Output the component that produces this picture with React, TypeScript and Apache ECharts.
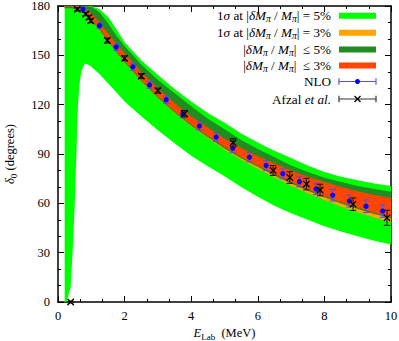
import React, { useEffect, useRef } from 'react';
import * as echarts from 'echarts';

// ---- axis ticks ----
const xMin = 0, xMax = 10, xInterval = 2;
const yMin = 0, yMax = 180, yInterval = 30;

// ---- band grid (E_Lab, MeV) ----
const bandX = [0.2, 0.4, 0.6, 0.8, 1.0, 1.25, 1.5, 1.75, 2.0, 2.5, 3.0, 3.5, 4.0, 4.5, 5.0, 5.5, 6.0, 6.5, 7.0, 7.5, 8.0, 8.5, 9.0, 9.5, 10.0];

// 1σ at |δMπ/Mπ| = 5%  (light green)
const green5Upper = [180, 180, 180, 180, 180, 178, 173.5, 166, 158, 147, 138, 129.5, 122, 115, 109, 102.5, 97, 92, 87.5, 83, 79, 76.2, 74, 72, 70.5];
const green5LowerX = [0.2, 0.25, 0.3, 0.38, 0.45, 0.5, 0.55, 0.6, 0.65, 0.7, 0.8, 0.9, 1.0, 1.25, 1.5, 1.75, 2.0, 2.5, 3.0, 3.5, 4.0, 4.5, 5.0, 5.5, 6.0, 6.5, 7.0, 7.5, 8.0, 8.5, 9.0, 9.5, 10.0];
const green5Lower = [0, 0, 3, 9, 35, 58, 88, 120, 133, 140, 145, 144.5, 143, 138.5, 133, 127.5, 122, 113, 104.5, 96.5, 89, 82.5, 76.5, 70, 64, 58.5, 54, 50, 46, 42.8, 40, 37.3, 35];

// 1σ at |δMπ/Mπ| = 3%  (orange)
const orange3Upper = [180, 180, 180, 179.1, 176.3, 170.8, 164.3, 157.9, 152, 140.6, 130.7, 121.8, 113.8, 106.9, 100.2, 94.4, 89.5, 85.1, 80.8, 77, 73.8, 70.8, 68.1, 65.8, 64];
const orange3Lower = [179.2, 179.2, 177.8, 174.8, 171, 165, 158.3, 151.7, 145.6, 134, 124, 114.9, 106.8, 99.7, 92.7, 86.5, 81, 75.8, 70.7, 66.1, 62, 58.1, 54.6, 51.4, 48.5];

// |δMπ/Mπ| ≤ 5%  (forest green)
const dg5Upper = [180, 180, 180, 180, 179.5, 176, 169.5, 162, 155.5, 144.5, 135, 127, 119, 111.5, 105, 98.5, 93, 88, 83, 79, 75.5, 73, 70.5, 68.7, 67];
const dg5Lower = [178.7, 178.7, 177.5, 175, 171.2, 165.2, 158.5, 151.9, 145.8, 134.2, 124.2, 115.2, 107.2, 100.2, 93.4, 87.4, 82.2, 77, 72.1, 67.7, 63.7, 59.9, 56.6, 53.5, 50.9];

// |δMπ/Mπ| ≤ 3%  (orange-red)
const red3Upper = [180, 180, 179.8, 178.3, 175.5, 170, 163.5, 157.1, 151.2, 139.8, 129.9, 121, 113, 106.1, 99.4, 93.6, 88.7, 84.3, 80, 76.2, 73, 70, 67.3, 65, 63.2];
const red3Lower = [179.5, 179.5, 178.3, 175.8, 172, 166, 159.3, 152.7, 146.6, 135, 125, 116, 108, 101, 94.2, 88.2, 83, 77.8, 72.9, 68.5, 64.5, 60.7, 57.4, 54.3, 51.7];

// NLO points
const nloX = [0.75, 1.25, 1.75, 2.25, 2.75, 3.25, 3.75, 4.25, 4.75, 5.25, 5.75, 6.25, 6.75, 7.25, 7.75, 8.25, 8.75, 9.25, 9.75];
const nloY = [178, 168, 155, 143, 132, 123, 114.3, 107, 100.2, 93.5, 88, 83, 78, 73.2, 68.7, 64.9, 61.4, 58.2, 55.3];
const nloErr = [1.2, 1.5, 2, 2, 2, 2.2, 2.3, 2.5, 2.6, 2.7, 2.8, 3, 3, 3.2, 3.3, 3.5, 3.6, 3.8, 3.8];

// Afzal et al. data
const afzalX = [0.38, 0.58, 0.83, 0.93, 0.98, 1.48, 2.0, 2.5, 3.0, 3.8, 5.26, 6.46, 6.96, 7.46, 7.87, 8.86, 9.88];
const afzalY = [0, 178, 175.1, 173.1, 171, 159, 148.2, 137.4, 128.5, 114.5, 96.9, 80, 75.7, 71.7, 68.1, 59.5, 51.2];
const afzalErr = [0.5, 1, 1, 1.2, 1.2, 1.5, 1.5, 1.5, 1.5, 2, 2.5, 3, 3.5, 3.5, 3.5, 3.8, 4.6];

const FONT = 'Liberation Serif';
const C_GREEN = '#00ff00';
const C_ORANGE = '#ffa500';
const C_DGREEN = '#228b22';
const C_RED = '#ff4500';
const C_NLO_BAR = '#5050f0';
const C_NLO_PT = '#0000ff';
const C_AFZAL = '#1a1a1a';

function bandSeries(name: string, ux: number[], uy: number[], lx: number[], ly: number[], color: string, z: number) {
  return {
    type: 'custom',
    name,
    silent: true,
    z,
    xAxisIndex: 0,
    yAxisIndex: 0,
    data: [[ux[0], uy[0]]],
    renderItem: (_p: any, api: any) => {
      const pts: number[][] = [];
      for (let i = 0; i < ux.length; i++) pts.push(api.coord([ux[i], uy[i]]));
      for (let i = lx.length - 1; i >= 0; i--) pts.push(api.coord([lx[i], ly[i]]));
      return { type: 'polygon', shape: { points: pts }, style: { fill: color, stroke: null } };
    },
  };
}

function errSeries(name: string, xs: number[], ys: number[], es: number[], kind: 'nlo' | 'afzal', z: number) {
  return {
    type: 'custom',
    name,
    silent: true,
    z,
    xAxisIndex: 0,
    yAxisIndex: 0,
    data: xs.map((x, i) => [x, ys[i], es[i]]),
    encode: { x: 0, y: 1 },
    renderItem: (_p: any, api: any) => {
      const x = api.value(0), y = api.value(1), e = api.value(2);
      const p = api.coord([x, y]);
      const hi = api.coord([x, y + e]);
      const lo = api.coord([x, y - e]);
      const stroke = kind === 'nlo' ? C_NLO_BAR : C_AFZAL;
      const lw = kind === 'nlo' ? 1 : 1.1;
      const cw = 3.2;
      const children: any[] = [
        { type: 'line', shape: { x1: p[0], y1: hi[1], x2: p[0], y2: lo[1] }, style: { stroke, lineWidth: lw } },
        { type: 'line', shape: { x1: p[0] - cw, y1: hi[1], x2: p[0] + cw, y2: hi[1] }, style: { stroke, lineWidth: lw } },
        { type: 'line', shape: { x1: p[0] - cw, y1: lo[1], x2: p[0] + cw, y2: lo[1] }, style: { stroke, lineWidth: lw } },
      ];
      if (kind === 'nlo') {
        children.push({ type: 'circle', shape: { cx: p[0], cy: p[1], r: 2.6 }, style: { fill: C_NLO_PT } });
      } else {
        const s = 3.2;
        children.push({ type: 'line', shape: { x1: p[0] - s, y1: p[1] - s, x2: p[0] + s, y2: p[1] + s }, style: { stroke: '#000', lineWidth: 1.3 } });
        children.push({ type: 'line', shape: { x1: p[0] - s, y1: p[1] + s, x2: p[0] + s, y2: p[1] - s }, style: { stroke: '#000', lineWidth: 1.3 } });
      }
      return { type: 'group', children };
    },
  };
}

function makeRich(fs: number) {
  return {
    r: { fontFamily: FONT, fontSize: fs, color: '#000', lineHeight: 16 },
    i: { fontFamily: FONT, fontSize: fs, fontStyle: 'italic', color: '#000', lineHeight: 16 },
    s: { fontFamily: FONT, fontSize: fs * 0.72, fontStyle: 'italic', color: '#000', lineHeight: 8, verticalAlign: 'bottom' },
    n: { fontFamily: FONT, fontSize: fs * 0.72, color: '#000', lineHeight: 8, verticalAlign: 'bottom' },
  };
}
const richAxis = makeRich(12.5);
const richLegend = makeRich(13.2);

const legendRows = [
  { text: '{r|1}{i|σ}{r| at |}{i|δM}{s|π}{r| / }{i|M}{s|π}{r|| = 5%}', kind: 'band', color: C_GREEN },
  { text: '{r|1}{i|σ}{r| at |}{i|δM}{s|π}{r| / }{i|M}{s|π}{r|| = 3%}', kind: 'band', color: C_ORANGE },
  { text: '{r||}{i|δM}{s|π}{r| / }{i|M}{s|π}{r||  ≤ 5%}', kind: 'band', color: C_DGREEN },
  { text: '{r||}{i|δM}{s|π}{r| / }{i|M}{s|π}{r||  ≤ 3%}', kind: 'band', color: C_RED },
  { text: '{r|NLO}', kind: 'nlo', color: C_NLO_BAR },
  { text: '{r|Afzal }{i|et al.}', kind: 'afzal', color: '#333' },
];
const legendY = [15.8, 32.8, 49.5, 65.5, 81.5, 99];

function buildLegend() {
  const els: any[] = [];
  const tx = 331, sx0 = 339, sx1 = 376;
  legendRows.forEach((row, k) => {
    const y = legendY[k];
    els.push({
      type: 'text',
      x: tx,
      y,
      style: {
        text: row.text,
        align: 'right',
        verticalAlign: 'middle',
        fill: '#000',
        fontFamily: FONT,
        fontSize: 13.2,
        rich: richLegend,
      },
      z: 100,
    });
    if (row.kind === 'band') {
      els.push({ type: 'rect', shape: { x: sx0, y: y - 3, width: sx1 - sx0, height: 6 }, style: { fill: row.color }, z: 100 });
    } else {
      const stroke = row.color;
      els.push({ type: 'line', shape: { x1: sx0, y1: y, x2: sx1, y2: y }, style: { stroke, lineWidth: 1.2 }, z: 100 });
      els.push({ type: 'line', shape: { x1: sx0, y1: y - 3.2, x2: sx0, y2: y + 3.2 }, style: { stroke, lineWidth: 1.2 }, z: 100 });
      els.push({ type: 'line', shape: { x1: sx1, y1: y - 3.2, x2: sx1, y2: y + 3.2 }, style: { stroke, lineWidth: 1.2 }, z: 100 });
      const cx = (sx0 + sx1) / 2;
      if (row.kind === 'nlo') {
        els.push({ type: 'circle', shape: { cx, cy: y, r: 2.5 }, style: { fill: C_NLO_PT }, z: 101 });
      } else {
        els.push({ type: 'line', shape: { x1: cx - 3, y1: y - 3, x2: cx + 3, y2: y + 3 }, style: { stroke: '#000', lineWidth: 1.3 }, z: 101 });
        els.push({ type: 'line', shape: { x1: cx - 3, y1: y + 3, x2: cx + 3, y2: y - 3 }, style: { stroke: '#000', lineWidth: 1.3 }, z: 101 });
      }
    }
  });
  return els;
}

const axisCommon = {
  axisLine: { show: true, onZero: false, lineStyle: { color: '#000', width: 1.5 } },
  axisTick: { show: true, inside: true, length: 6, lineStyle: { color: '#000', width: 1 } },
  minorTick: { show: true, splitNumber: 3, length: 3, lineStyle: { color: '#000', width: 1 } },
  splitLine: { show: false },
};

export default function App() {
  const ref = useRef<HTMLDivElement>(null);
  useEffect(() => {
    document.body.style.margin = '0';
    if (!ref.current) return;
    const chart = echarts.init(ref.current, null, { renderer: 'svg', width: 399, height: 341 });
    const option: any = {
      animation: false,
      backgroundColor: '#fff',
      textStyle: { fontFamily: FONT },
      grid: { left: 58, right: 8, top: 6, bottom: 39, containLabel: false, outerBoundsMode: 'none' },
      xAxis: [
        {
          type: 'value', min: xMin, max: xMax, interval: xInterval, position: 'bottom',
          ...axisCommon,
          axisLabel: { show: true, color: '#000', fontFamily: FONT, fontSize: 12.5, margin: 7 },
          name: '{i|E}{n|Lab}{r|  (MeV)}',
          nameLocation: 'middle',
          nameGap: 21,
          nameTextStyle: { rich: richAxis, fontFamily: FONT, fontSize: 12.5, color: '#000' },
        },
        {
          type: 'value', min: xMin, max: xMax, interval: xInterval, position: 'top',
          ...axisCommon,
          axisLabel: { show: false },
        },
      ],
      yAxis: [
        {
          type: 'value', min: yMin, max: yMax, interval: yInterval, position: 'left',
          ...axisCommon,
          axisLabel: { show: true, color: '#000', fontFamily: FONT, fontSize: 12.5, margin: 8 },
          name: '{i|δ}{n|0}{r| (degrees)}',
          nameLocation: 'middle',
          nameGap: 40,
          nameTextStyle: { rich: richAxis, fontFamily: FONT, fontSize: 12.5, color: '#000' },
        },
        {
          type: 'value', min: yMin, max: yMax, interval: yInterval, position: 'right',
          ...axisCommon,
          axisLabel: { show: false },
        },
      ],
      series: [
        bandSeries('green5', [bandX[0], ...bandX], [0, ...green5Upper], green5LowerX, green5Lower, C_GREEN, 1),
        bandSeries('orange3', bandX, orange3Upper, bandX, orange3Lower, C_ORANGE, 2),
        bandSeries('dgreen5', bandX, dg5Upper, bandX, dg5Lower, C_DGREEN, 3),
        bandSeries('red3', bandX, red3Upper, bandX, red3Lower, C_RED, 4),
        errSeries('NLO', nloX, nloY, nloErr, 'nlo', 5),
        errSeries('Afzal', afzalX, afzalY, afzalErr, 'afzal', 6),
      ],
      graphic: buildLegend(),
    };
    chart.setOption(option);
    return () => chart.dispose();
  }, []);
  return <div ref={ref} style={{ width: 399, height: 341, background: '#fff' }} />;
}
